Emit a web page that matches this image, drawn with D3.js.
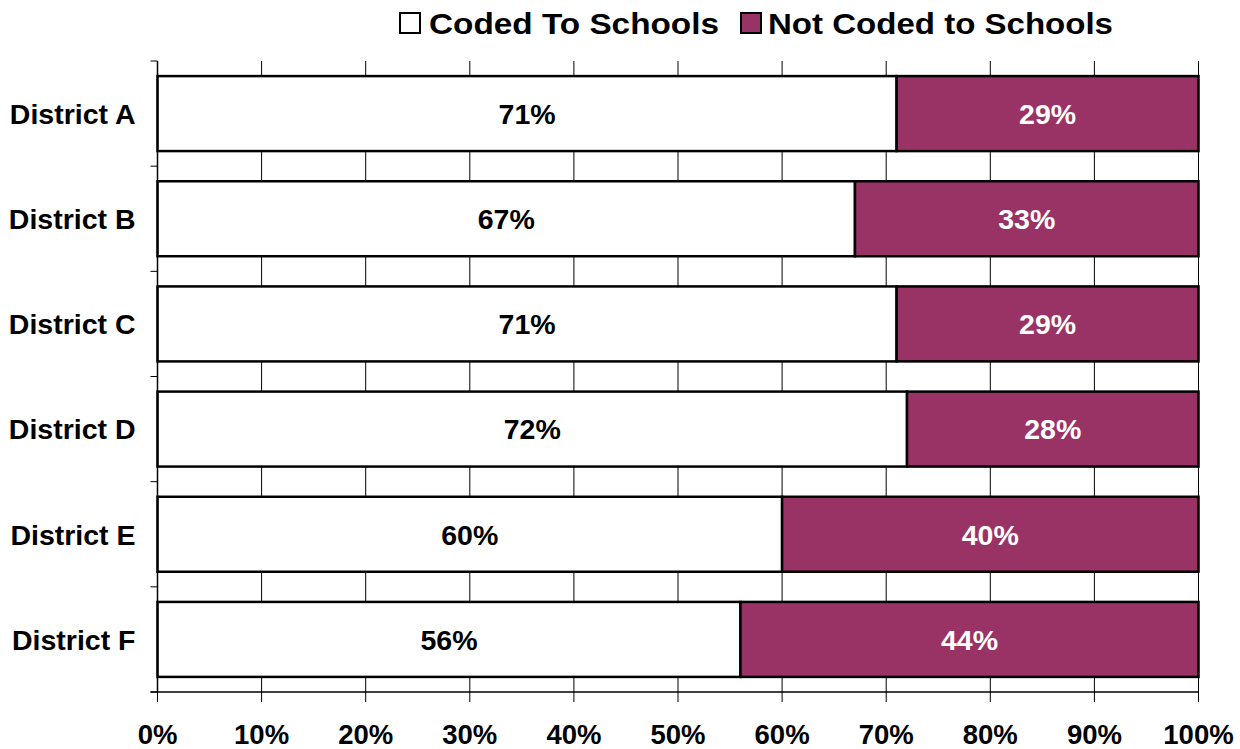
<!DOCTYPE html>
<html>
<head>
<meta charset="utf-8">
<script src="https://cdn.jsdelivr.net/npm/d3@7"></script>
<style>
  html, body { margin: 0; padding: 0; background: #fff; }
  svg { display: block; font-family: Arial, "Liberation Sans", sans-serif; font-weight: bold; }
</style>
</head>
<body>
<svg id="chart" width="1240" height="749"></svg>
<script>
// Share of records coded to schools, by district (percent)
const districts = ["District A", "District B", "District C", "District D", "District E", "District F"];
const codedToSchools = [71, 67, 71, 72, 60, 56];
const notCodedToSchools = [29, 33, 29, 28, 40, 44];
const seriesNames = ["Coded To Schools", "Not Coded to Schools"];
const seriesColors = ["#ffffff", "#993366"];
const labelColors = ["#000000", "#ffffff"];
const xTicks = [0, 10, 20, 30, 40, 50, 60, 70, 80, 90, 100];

const svg = d3.select("#chart");
const margin = { left: 157.5, right: 1240 - 1198.5, top: 61, bottom: 749 - 692 };
const width = 1240 - margin.left - margin.right;
const height = 749 - margin.top - margin.bottom;

const g = svg.append("g").attr("transform", `translate(${margin.left},${margin.top})`);

const x = d3.scaleLinear().domain([0, 100]).range([0, width]);
const y = d3.scaleBand().domain(districts).range([0, height]).paddingInner(0.287).paddingOuter(0.1435);
const yEdges = d3.scaleLinear().domain([0, districts.length]).range([0, height]);

// vertical gridlines
g.append("g")
  .selectAll("line")
  .data(xTicks)
  .join("line")
  .attr("x1", d => x(d)).attr("x2", d => x(d))
  .attr("y1", 0).attr("y2", height)
  .attr("stroke", "#000").attr("stroke-width", 1);

// stacked rows
const rows = districts.map((name, i) => ({
  name,
  segs: [
    { s: 0, x0: 0, x1: codedToSchools[i], v: codedToSchools[i] },
    { s: 1, x0: codedToSchools[i], x1: codedToSchools[i] + notCodedToSchools[i], v: notCodedToSchools[i] }
  ]
}));

const rowG = g.selectAll("g.row").data(rows).join("g").attr("class", "row");

rowG.selectAll("rect")
  .data(d => d.segs.map(s => ({ ...s, name: d.name })))
  .join("rect")
  .attr("x", d => x(d.x0))
  .attr("width", d => x(d.x1) - x(d.x0))
  .attr("y", d => y(d.name))
  .attr("height", y.bandwidth())
  .attr("fill", d => seriesColors[d.s])
  .attr("stroke", "#000")
  .attr("stroke-width", 2.5);

rowG.selectAll("text")
  .data(d => d.segs.map(s => ({ ...s, name: d.name })))
  .join("text")
  .attr("x", d => (x(d.x0) + x(d.x1)) / 2)
  .attr("y", d => y(d.name) + y.bandwidth() / 2)
  .attr("dy", "0.36em")
  .attr("text-anchor", "middle")
  .attr("font-size", 28.5)
  .attr("fill", d => labelColors[d.s])
  .text(d => d.v + "%");

// left axis: line, ticks on band edges, category labels
g.append("line")
  .attr("x1", 0).attr("x2", 0).attr("y1", 0).attr("y2", height)
  .attr("stroke", "#000").attr("stroke-width", 1.5);

g.append("g")
  .selectAll("line")
  .data(d3.range(districts.length + 1))
  .join("line")
  .attr("x1", -7).attr("x2", 0)
  .attr("y1", d => yEdges(d)).attr("y2", d => yEdges(d))
  .attr("stroke", "#000").attr("stroke-width", 1);

g.append("g")
  .selectAll("text")
  .data(districts)
  .join("text")
  .attr("x", -22)
  .attr("y", d => y(d) + y.bandwidth() / 2)
  .attr("dy", "0.36em")
  .attr("text-anchor", "end")
  .attr("font-size", 28.5)
  .attr("fill", "#000")
  .text(d => d);

// bottom axis
const xAxis = g.append("g").attr("transform", `translate(0,${height})`);
xAxis.append("line")
  .attr("x1", -7).attr("x2", width)
  .attr("stroke", "#000").attr("stroke-width", 1.5);
xAxis.selectAll("line.tick")
  .data(xTicks)
  .join("line")
  .attr("class", "tick")
  .attr("x1", d => x(d)).attr("x2", d => x(d))
  .attr("y1", 0).attr("y2", 10)
  .attr("stroke", "#000").attr("stroke-width", 1);
xAxis.selectAll("text")
  .data(xTicks)
  .join("text")
  .attr("x", d => x(d))
  .attr("y", 52)
  .attr("text-anchor", "middle")
  .attr("font-size", 27.5)
  .attr("fill", "#000")
  .text(d => d + "%");

// legend
const legend = svg.append("g");
const legendItems = [
  { box: 400, text: 429, len: 290 },
  { box: 741, text: 768, len: 345 }
];
legendItems.forEach((it, i) => {
  legend.append("rect")
    .attr("x", it.box).attr("y", 13).attr("width", 20).attr("height", 20)
    .attr("fill", seriesColors[i]).attr("stroke", "#000").attr("stroke-width", 2);
  legend.append("text")
    .attr("x", it.text).attr("y", 34)
    .attr("font-size", 30)
    .attr("textLength", it.len)
    .attr("lengthAdjust", "spacingAndGlyphs")
    .attr("fill", "#000")
    .text(seriesNames[i]);
});
</script>
</body>
</html>
